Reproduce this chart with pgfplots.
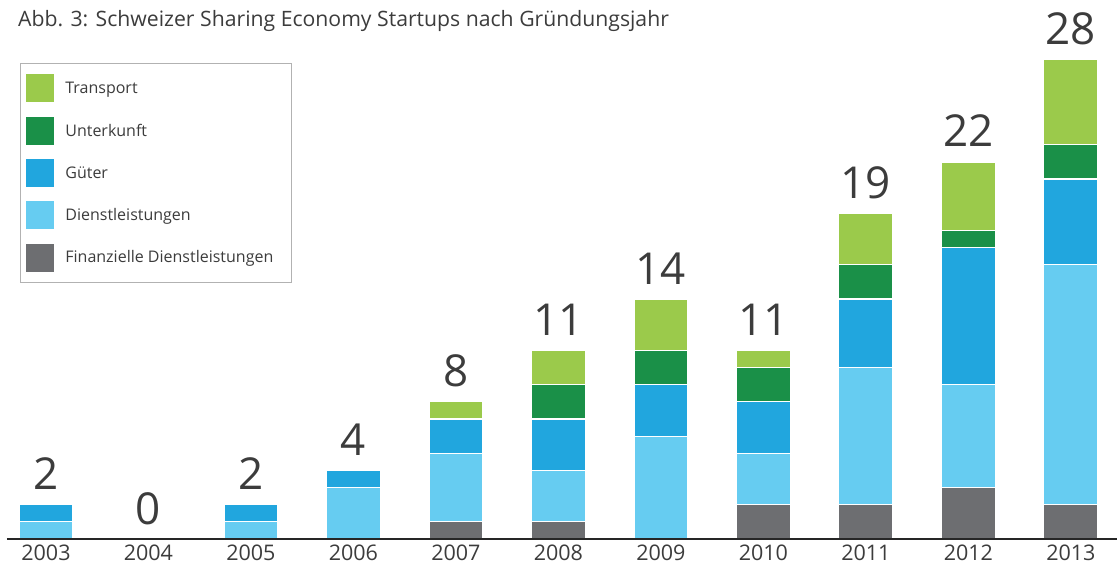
\documentclass[border=0pt]{standalone}
\usepackage{pgfplots}
\pgfplotsset{compat=1.18}
\usepackage{pgfplotstable}
\usepackage{fontspec}
\setmainfont{Open Sans}

\definecolor{ctrans}{HTML}{9BCA4B}
\definecolor{cunter}{HTML}{1A9048}
\definecolor{cgueter}{HTML}{21A6DE}
\definecolor{cdienst}{HTML}{66CCF1}
\definecolor{cfin}{HTML}{6D6E71}
\definecolor{ctext}{HTML}{3C3C3C}

% Startups nach Gruendungsjahr, 0 = 2003 ... 10 = 2013
\pgfplotstableread{
x fin dienst gueter unter trans total
0 0 1 1 0 0 2
1 0 0 0 0 0 0
2 0 1 1 0 0 2
3 0 3 1 0 0 4
4 1 4 2 0 1 8
5 1 3 3 2 2 11
6 0 6 3 2 3 14
7 2 3 3 2 1 11
8 2 8 4 2 3 19
9 3 6 8 1 4 22
10 2 14 5 2 5 28
}\data

\tikzset{tot/.style={anchor=base, yshift=15pt, inner sep=0pt,
  font=\fontsize{44}{44}\selectfont, text=ctext}}

\begin{document}
\begin{tikzpicture}
\begin{axis}[
  scale only axis,
  width=1110pt, height=539pt,
  xmin=-0.38, xmax=10.45,
  ymin=0, ymax=31.45,
  ybar stacked,
  bar width=54pt,
  axis x line=bottom,
  axis y line=none,
  axis line style={-, line width=1.3pt, color=black!85},
  axis on top,
  xtick={0,...,10},
  xticklabels={2003,2004,2005,2006,2007,2008,2009,2010,2011,2012,2013},
  major tick length=0pt,
  xticklabel style={font=\fontsize{21.5}{21.5}\selectfont, text=ctext, yshift=-2pt},
  every axis plot/.append style={draw=white, line width=1.2pt},
  reverse legend,
  legend cell align=left,
  legend image code/.code={\fill[#1, draw=none] (0pt,-14pt) rectangle (28pt,14pt);},
  legend style={
    at={(rel axis cs:0.0117,0.883)}, anchor=north west,
    draw=black!30, line width=0.8pt,
    inner xsep=6pt, inner ysep=11pt,
    row sep=14.3pt, column sep=9pt,
    font=\fontsize{16}{16}\selectfont, text=ctext,
    nodes={inner sep=2pt},
  },
]
\addplot[fill=cfin] table[x=x, y=fin] {\data};
\addlegendentry{Finanzielle Dienstleistungen\hspace*{10pt}}
\addplot[fill=cdienst] table[x=x, y=dienst] {\data};
\addlegendentry{Dienstleistungen}
\addplot[fill=cgueter] table[x=x, y=gueter] {\data};
\addlegendentry{Güter}
\addplot[fill=cunter] table[x=x, y=unter] {\data};
\addlegendentry{Unterkunft}
\addplot[fill=ctrans] table[x=x, y=trans] {\data};
\addlegendentry{Transport}
% Summen ueber den Balken
\node[tot] at (axis cs:0,2) {2};
\node[tot] at (axis cs:1,0) {0};
\node[tot] at (axis cs:2,2) {2};
\node[tot] at (axis cs:3,4) {4};
\node[tot] at (axis cs:4,8) {8};
\node[tot] at (axis cs:5,11) {11};
\node[tot] at (axis cs:6,14) {14};
\node[tot] at (axis cs:7,11) {11};
\node[tot] at (axis cs:8,19) {19};
\node[tot] at (axis cs:9,22) {22};
\node[tot] at (axis cs:10,28) {28};
\end{axis}
\node[anchor=base west, inner sep=0pt, text=ctext, font=\fontsize{21.2}{21.2}\selectfont]
  at (11pt,512pt) {Abb. 3: Schweizer Sharing Economy Startups nach Gründungsjahr};
\pgfresetboundingbox
\path (-7pt,-27pt) rectangle (1110pt,539pt);
\end{tikzpicture}
\end{document}
